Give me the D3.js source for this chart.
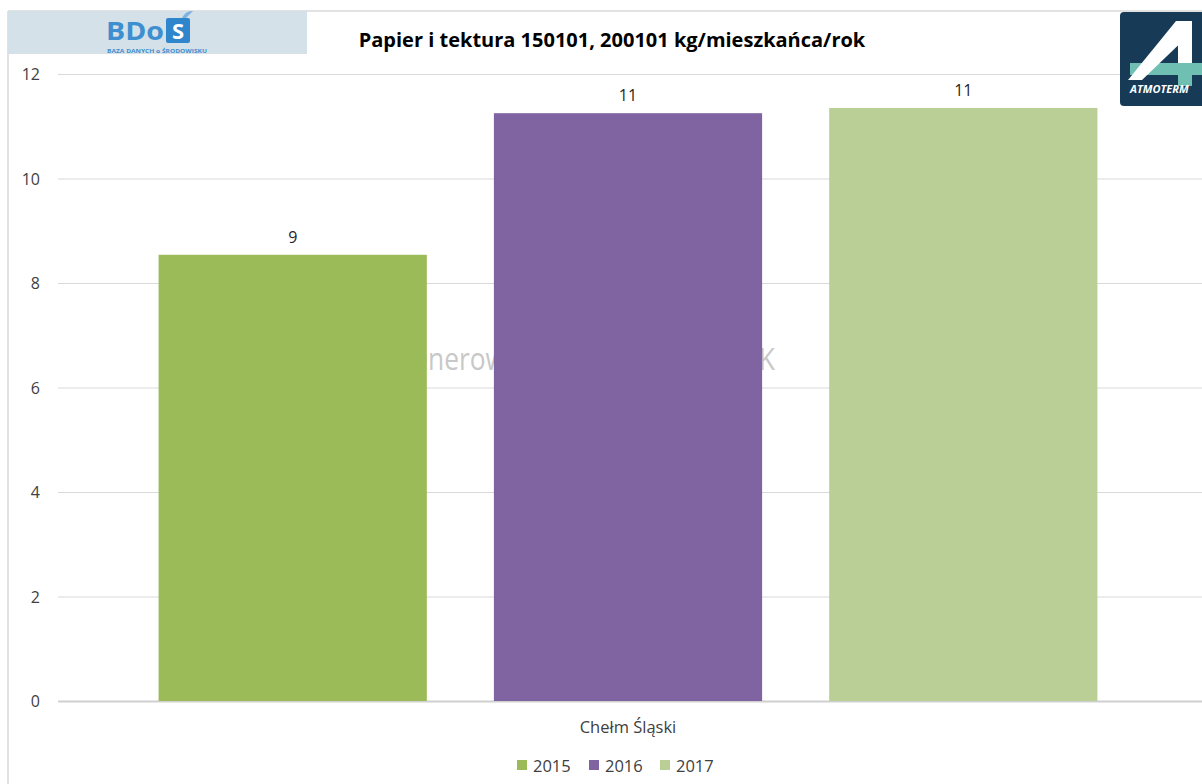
<!DOCTYPE html>
<html>
<head>
<meta charset="utf-8">
<script src="https://cdn.jsdelivr.net/npm/d3@7"></script>
<style>
  body { margin: 0; background: #fff; }
  text { font-family: "Open Sans", "Noto Sans", sans-serif; }
</style>
</head>
<body>
<svg id="chart" width="1202" height="784"></svg>
<script>
// data
const categories = ["Chełm Śląski"];
const years = ["2015", "2016", "2017"];
const values = [8.54, 11.25, 11.35];
const valueLabels = ["9", "11", "11"];
const colors = ["#9bbb59", "#8064a2", "#bacf96"];
const yTicks = [0, 2, 4, 6, 8, 10, 12];
const title = "Papier i tektura 150101, 200101 kg/mieszkańca/rok";

const svg = d3.select("#chart"),
  width = +svg.attr("width"),
  height = +svg.attr("height");

const plot = { left: 58, right: 1198, top: 74, bottom: 701 };

const y = d3.scaleLinear().domain([0, 12]).range([plot.bottom, plot.top]);
const x0 = d3.scaleBand().domain(categories).range([plot.left, plot.right]);
const x1 = d3.scaleBand().domain(years).range([0, x0.bandwidth()])
  .paddingInner(0.2).paddingOuter(0.3);

// frame lines
svg.append("line").attr("x1", 8).attr("x2", width).attr("y1", 11).attr("y2", 11)
  .attr("stroke", "#d9d9d9").attr("stroke-width", 1.5);
svg.append("line").attr("x1", 8).attr("x2", 8).attr("y1", 11).attr("y2", height)
  .attr("stroke", "#d9d9d9").attr("stroke-width", 1.5);

// gridlines
svg.append("g").selectAll("line").data(yTicks).join("line")
  .attr("x1", plot.left).attr("x2", width)
  .attr("y1", d => y(d) + 0.5).attr("y2", d => y(d) + 0.5)
  .attr("stroke", d => d === 0 ? "#d0d0d0" : "#d9d9d9")
  .attr("stroke-width", d => d === 0 ? 2 : 1);

// y tick labels
svg.append("g").selectAll("text").data(yTicks).join("text")
  .attr("x", 40).attr("y", d => y(d) + 6)
  .attr("text-anchor", "end")
  .attr("font-size", 16).attr("fill", "#404040")
  .text(d => d);

// watermark (sits behind the bars)
const wm = svg.append("text")
  .attr("y", 370)
  .attr("font-family", "'Liberation Sans Narrow', 'DejaVu Sans Condensed', 'Open Sans', sans-serif")
  .attr("font-size", 31).attr("fill", "#c8c8c8")
  .text("Wygenerowano w systemie BDOK");
{
  const full = wm.node().getComputedTextLength();
  const pre = wm.node().getSubStringLength(0, 4);
  const k = (775 - 428) / (full - pre);
  wm.attr("x", 428 - k * pre).attr("textLength", k * full).attr("lengthAdjust", "spacingAndGlyphs");
}

// bars
const g = svg.append("g").selectAll("g").data(categories).join("g")
  .attr("transform", d => `translate(${x0(d)},0)`);

g.selectAll("rect").data(years).join("rect")
  .attr("x", d => x1(d))
  .attr("y", (d, i) => y(values[i]))
  .attr("width", x1.bandwidth())
  .attr("height", (d, i) => y(0) - y(values[i]))
  .attr("fill", (d, i) => colors[i]);

g.selectAll("text.val").data(years).join("text")
  .attr("class", "val")
  .attr("x", d => x1(d) + x1.bandwidth() / 2)
  .attr("y", (d, i) => y(values[i]) - 12)
  .attr("text-anchor", "middle")
  .attr("font-size", 16).attr("fill", "#262626")
  .text((d, i) => valueLabels[i]);

// category label
svg.append("g").selectAll("text").data(categories).join("text")
  .attr("x", d => x0(d) + x0.bandwidth() / 2)
  .attr("y", 733)
  .attr("text-anchor", "middle")
  .attr("font-size", 16.5).attr("fill", "#404040")
  .text(d => d);

// legend
const legendX = [517, 589, 660];
const lg = svg.append("g").selectAll("g").data(years).join("g")
  .attr("transform", (d, i) => `translate(${legendX[i]},760)`);
lg.append("rect").attr("x", 0).attr("y", 0).attr("width", 10).attr("height", 10)
  .attr("fill", (d, i) => colors[i]);
lg.append("text").attr("x", 16).attr("y", 12)
  .attr("font-size", 16.5).attr("fill", "#404040")
  .text(d => d);

// title
svg.append("text")
  .attr("x", 612).attr("y", 47)
  .attr("text-anchor", "middle")
  .attr("font-size", 20).attr("font-weight", "bold").attr("fill", "#000")
  .text(title);

// BDoS logo
const bd = svg.append("g");
bd.append("rect").attr("x", 8).attr("y", 11).attr("width", 299).attr("height", 43).attr("fill", "#d5e1e9");
bd.append("text").attr("x", 106).attr("y", 40)
  .attr("font-size", 25).attr("font-weight", "bold").attr("fill", "#3d8fd0")
  .attr("font-family", "'DejaVu Sans', sans-serif")
  .attr("textLength", 58).attr("lengthAdjust", "spacingAndGlyphs")
  .text("BDo");
bd.append("rect").attr("x", 166).attr("y", 18).attr("width", 24).attr("height", 25).attr("rx", 2).attr("fill", "#2f86cc");
bd.append("path").attr("d", "M182,18 Q186,10 193,11 Q189,15 186,18 Z").attr("fill", "#7fb2de");
bd.append("text").attr("x", 178).attr("y", 39).attr("text-anchor", "middle")
  .attr("font-size", 22).attr("font-weight", "bold").attr("fill", "#fff")
  .attr("font-family", "'DejaVu Sans', sans-serif")
  .text("S");
bd.append("text").attr("x", 157).attr("y", 53).attr("text-anchor", "middle")
  .attr("font-size", 4.5).attr("font-weight", "bold").attr("fill", "#3d8fd0")
  .attr("textLength", 100).attr("lengthAdjust", "spacingAndGlyphs")
  .text("BAZA DANYCH o ŚRODOWISKU");

// Atmoterm logo
const at = svg.append("g");
at.append("rect").attr("x", 1120).attr("y", 12).attr("width", 90).attr("height", 94).attr("rx", 4).attr("fill", "#173a56");
at.append("rect").attr("x", 1130).attr("y", 63).attr("width", 72).attr("height", 12).attr("fill", "#6fbfb3");
at.append("rect").attr("x", 1178).attr("y", 60).attr("width", 14).attr("height", 26).attr("fill", "#6fbfb3");
at.append("path").attr("d", "M1128,80 L1176,21 L1192,21 L1192,32 L1142,80 Z").attr("fill", "#fff");
at.append("rect").attr("x", 1178).attr("y", 21).attr("width", 14).attr("height", 42).attr("fill", "#fff");
at.append("text").attr("x", 1130).attr("y", 93)
  .attr("font-size", 11).attr("font-weight", "bold").attr("font-style", "italic").attr("fill", "#fff")
  .text("ATMOTERM");
</script>
</body>
</html>
